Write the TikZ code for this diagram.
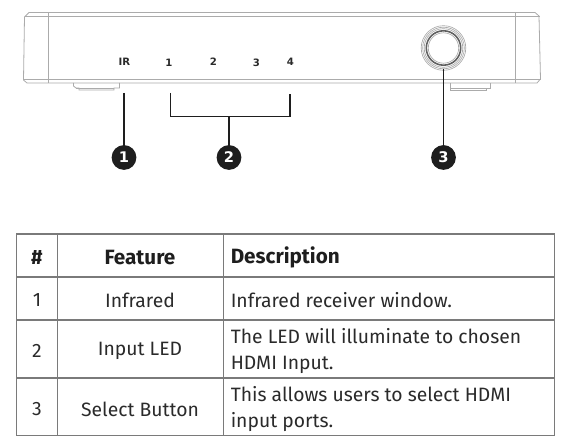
\documentclass[tikz,border=0pt]{standalone}
\usepackage{fontspec}
\setmainfont{Fira Sans}
\newfontfamily\labfont{DejaVu Sans}
\definecolor{ink}{HTML}{1E1E1E}
\definecolor{dev}{HTML}{ABABAB}
\definecolor{grid}{HTML}{7A7A7A}
\definecolor{txt}{HTML}{2A2A2A}
\tikzset{
  devline/.style={draw=dev,line width=0.6pt},
  leader/.style={draw=ink,line width=1.4pt},
  badge/.style={circle,fill=ink,text=white,minimum size=18.6pt,inner sep=0pt,font=\labfont\bfseries\fontsize{11}{11}\selectfont},
  panel/.style={font=\labfont\bfseries\fontsize{7.6}{8}\selectfont,text=txt,inner sep=0pt},
  gridline/.style={draw=grid,line width=1pt},
  cell/.style={font=\fontsize{14.5}{19.5}\selectfont,text=txt,inner sep=0pt,align=left},
  head/.style={font=\bfseries\fontsize{15.5}{18}\selectfont,text=ink,inner sep=0pt}
}
\begin{document}
\begin{tikzpicture}[x=0.75pt,y=-0.75pt]
\useasboundingbox (0,0) rectangle (569,448);
% device
\draw[devline] (29,12.5) -- (535,12.5) -- (539,16) -- (540.5,79) -- (537,83) -- (27,83) -- (23.5,80) -- (24.5,17) -- cycle;
\draw[devline] (24.5,16.3) -- (539.5,16.3);
\draw[devline] (24,79.5) -- (540.5,79.5);
\draw[devline] (48.5,12.5) -- (48.5,83);
\draw[devline] (515.5,12.5) -- (515.5,83);
\draw[devline] (73.5,83) -- (73.5,86) -- (76,88) -- (79,88) -- (79,90) -- (114,90) -- (114,88) -- (119.5,88) -- (119.5,83);
\draw[devline] (76,88) -- (114,88);
\draw[devline] (450,83) -- (450,90) -- (486,90) -- (486,88) -- (490.5,88) -- (490.5,83);
\draw[devline] (450,88) -- (486,88);
% button
\draw[dev,line width=0.5pt] (443.5,48) circle (22.3);
\draw[dev,line width=0.5pt] (443.5,48) circle (20.8);
\draw[dev,line width=0.5pt] (443.5,48) circle (19.3);
\draw[draw=ink!70,line width=1.2pt] (443.5,48) circle (17.2);
\draw[dev,line width=0.5pt] (443.5,48) circle (15.2);
% panel labels
\node[panel] (lir) at (124.3,62) {IR};
\node[panel] (l1) at (169,62.5) {1};
\node[panel] (l2) at (213.5,62) {2};
\node[panel] (l3) at (256.5,62.5) {3};
\node[panel] (l4) at (290.5,62) {4};
% badges
\node[badge] (b1) at (124,157.5) {1};
\node[badge] (b2) at (229,157.5) {2};
\node[badge] (b3) at (443.5,157.5) {3};
% leaders
\coordinate (c1) at (124,93);
\coordinate (c3) at (443.5,69);
\coordinate (ba) at (170.5,93);
\coordinate (bb) at (290,94);
\coordinate (bm) at (229,116.5);
\draw[leader] (c1) -- (b1);
\draw[leader] (c3) -- (b3);
\draw[leader] (ba) |- (bm) -| (bb);
\draw[leader] (bm) -- (b2);
% table
\draw[gridline] (16.7,234) rectangle (554.5,435.7);
\draw[gridline] (16.7,277) -- (554.5,277);
\draw[gridline] (16.7,320) -- (554.5,320);
\draw[gridline] (16.7,378) -- (554.5,378);
\draw[gridline] (57.7,234) -- (57.7,435.7);
\draw[gridline] (223.7,234) -- (223.7,435.7);
\node[head] (h1) at (37,257.5) {\#};
\node[head] (h2) at (140,257.5) {Feature};
\node[head,anchor=west] (h3) at (230.5,257.5) {Description};
\node[cell] (n1) at (37,300.5) {1};
\node[cell] (f1) at (140,300.5) {Infrared};
\node[cell,anchor=west] (d1) at (230.5,300.5) {Infrared receiver window.};
\node[cell] (n2) at (37,351) {2};
\node[cell] (f2) at (140,351) {Input LED};
\node[cell,anchor=west] (d2) at (230.5,351.5) {The LED will illuminate to chosen\\HDMI Input.};
\node[cell] (n3) at (37,409) {3};
\node[cell] (f3) at (140,409) {Select Button};
\node[cell,anchor=west] (d3) at (230.5,409.5) {This allows users to select HDMI\\input ports.};
\end{tikzpicture}
\end{document}
